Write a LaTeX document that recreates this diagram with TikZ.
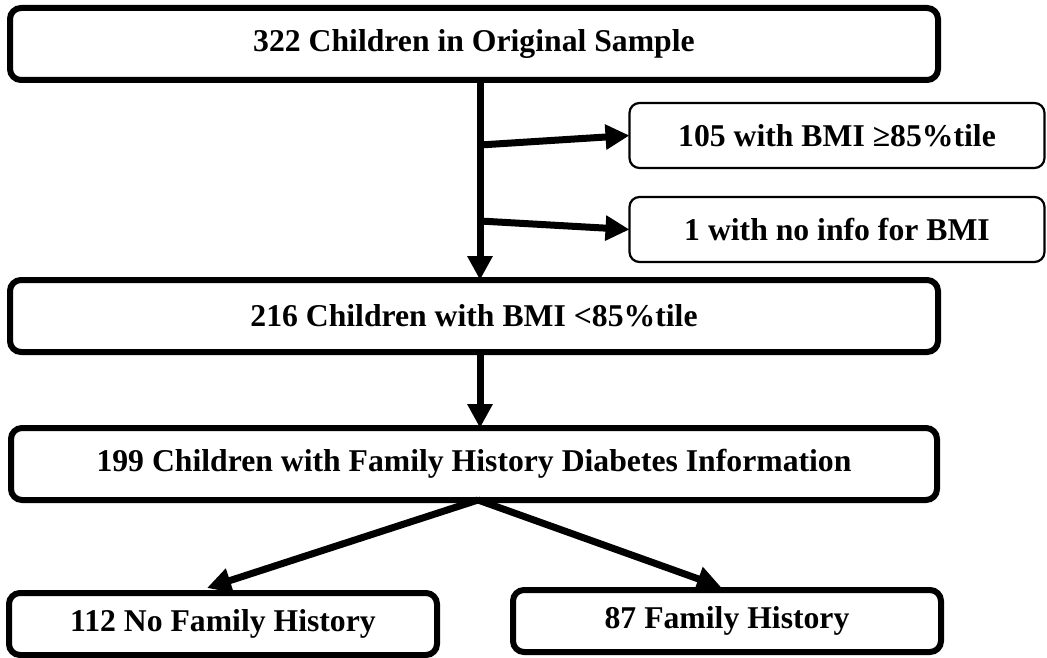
\documentclass[tikz,border=0pt]{standalone}
\usepackage{fontspec}
\setmainfont{Liberation Serif}
\usetikzlibrary{positioning,arrows.meta}

\begin{document}
\begin{tikzpicture}[
          x=1pt, y=-1pt,
          node distance=76pt,
          mainbox/.style={draw, line width=6pt, rounded corners=11pt, minimum width=928pt, minimum height=72pt, outer sep=0pt, inner sep=0pt, align=center, font=\fontsize{31.7}{36}\selectfont\bfseries},
          sidebox/.style={mainbox, line width=2.2pt, rounded corners=10pt, minimum width=415pt, minimum height=65pt},
          leafbox/.style={mainbox, minimum width=428pt, minimum height=62pt},
          arr/.style={-{Triangle[length=24pt, width=24pt]}, line width=7pt}
      ]
        \useasboundingbox (0,0) rectangle (1047,658);
        \node[mainbox] (orig) at (474,44) {322 Children in Original Sample};
        \node[sidebox] (over) at (837,135.5) {105 with BMI ≥85\%tile};
        \node[sidebox] (noinfo) at (837,229.5) {1 with no info for BMI};
        \node[mainbox, below=200pt of orig] (under) {216 Children with BMI <85\%tile};
        \node[mainbox, minimum width=926pt, below=of under] (famhist) {199 Children with Family History Diabetes Information};
        \node[leafbox] (nofh) at (223,624) {112 No Family History};
        \node[leafbox] (fh) at (727,621) {87 Family History};
        \coordinate (b1) at (480,145);
        \coordinate (b2) at (480,221);
        \draw[arr] (orig.south -| b1) -- (under.north -| b1);
        \draw[arr] (b1) -- (over.west);
        \draw[arr] (b2) -- (noinfo.west);
        \draw[arr] (under.south -| b1) -- (famhist.north -| b1);
        \draw[arr] ([xshift=4pt]famhist.south) -- ([xshift=-16pt, yshift=5pt]nofh.north);
        \draw[arr] ([xshift=4pt]famhist.south) -- ([xshift=-6pt, yshift=3pt]fh.north);
      \end{tikzpicture}
\end{document}
